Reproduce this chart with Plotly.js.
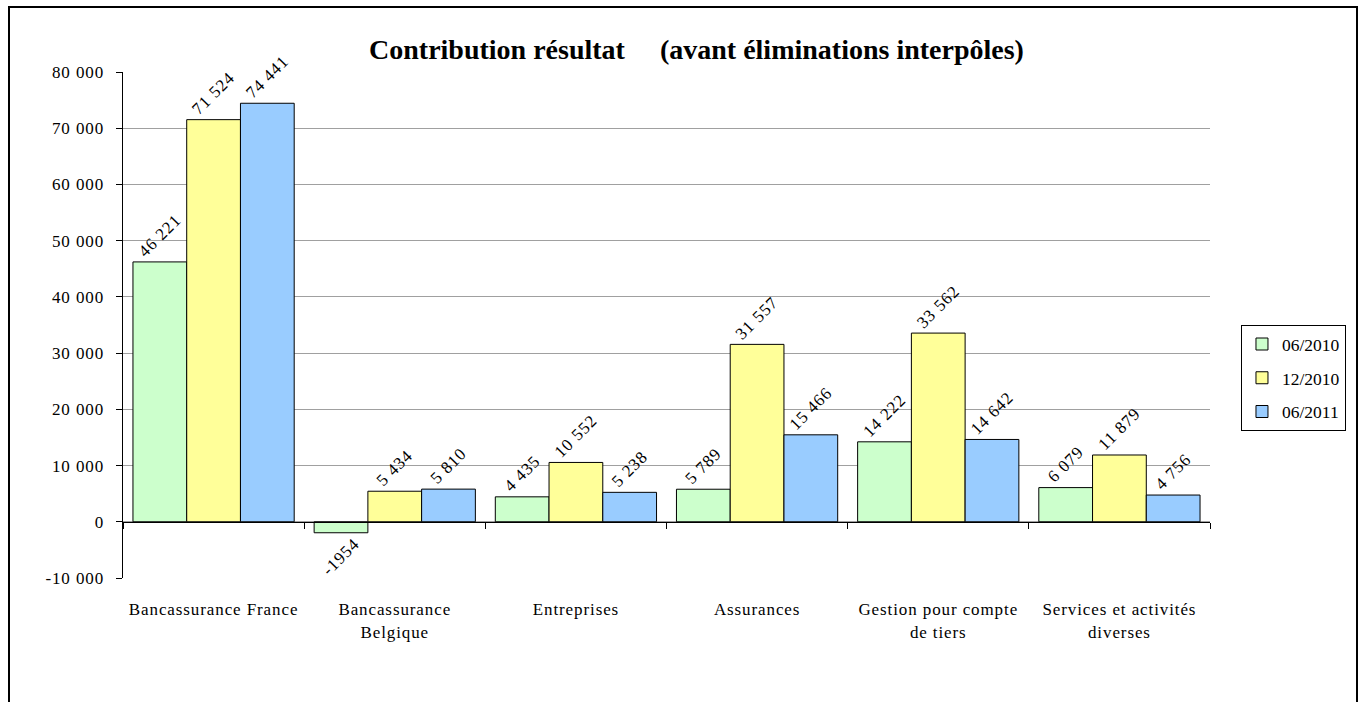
<!DOCTYPE html>
<html>
<head>
<meta charset="utf-8">
<script src="https://cdn.plot.ly/plotly-3.0.1.min.js"></script>
<style>
  body { margin: 0; padding: 0; background: #fff; }
  #chart { position: absolute; left: 0; top: 0; width: 1363px; height: 702px; }
  #frame { position: absolute; left: 8px; top: 6px; width: 1350px; height: 730px;
           border: 2px solid #000; box-sizing: border-box; pointer-events: none; }
  #chart .xtick text, #chart .ytick text, #chart .bartext { letter-spacing: 0.9px; }
</style>
</head>
<body>
<div id="chart"></div>
<div id="frame"></div>
<script>
const categories = [
  "Bancassurance France",
  "Bancassurance<br>Belgique",
  "Entreprises",
  "Assurances",
  "Gestion pour compte<br>de tiers",
  "Services et activités<br>diverses"
];
const seriesNames = ["06/2010", "12/2010", "06/2011"];
const values_06_2010 = [46221, -1954, 4435, 5789, 14222, 6079];
const values_12_2010 = [71524, 5434, 10552, 31557, 33562, 11879];
const values_06_2011 = [74441, 5810, 5238, 15466, 14642, 4756];
const colors = ["#CCFFCC", "#FFFF99", "#99CCFF"];
const yTickVals = [-10000, 0, 10000, 20000, 30000, 40000, 50000, 60000, 70000, 80000];
const yTickText = ["-10 000", "0", "10 000", "20 000", "30 000", "40 000", "50 000", "60 000", "70 000", "80 000"];

function fmt(n) {
  if (n < 0) return "-" + Math.abs(n);
  return String(n).replace(/\B(?=(\d{3})+(?!\d))/g, " ");
}

const serif = "Liberation Serif, Times New Roman, serif";
const allSeries = [values_06_2010, values_12_2010, values_06_2011];
const idx = categories.map((c, i) => i);

const traces = allSeries.map((vals, k) => ({
  type: "bar",
  name: seriesNames[k],
  legendgroup: "g" + k,
  x: idx,
  y: vals,
  text: vals.map(fmt),
  textposition: "outside",
  textangle: -45,
  constraintext: "none",
  cliponaxis: false,
  textfont: { family: serif, size: 17, color: "#000" },
  marker: { color: colors[k], line: { color: "#000", width: 1 } },
  hoverinfo: "skip"
}));

traces.push({
  type: "scatter", x: [], y: [], xaxis: "x2", yaxis: "y",
  showlegend: false, hoverinfo: "skip"
});

const layout = {
  width: 1363, height: 702,
  margin: { l: 123, r: 153, t: 72, b: 124 },
  paper_bgcolor: "#fff", plot_bgcolor: "#fff",
  font: { family: serif, size: 17, color: "#000" },
  title: {
    text: "<b>Contribution résultat &nbsp;&nbsp;&nbsp;&nbsp;(avant éliminations interpôles)</b>",
    font: { family: serif, size: 28, color: "#000" },
    x: 0.511, xanchor: "center", xref: "container",
    y: 0.93, yanchor: "middle", yref: "container"
  },
  barmode: "group",
  bargap: 0.11,
  bargroupgap: 0,
  showlegend: true,
  legend: {
    x: 1.0285, xanchor: "left", y: 0.395, yanchor: "middle",
    bordercolor: "#000", borderwidth: 1, bgcolor: "#fff",
    font: { family: serif, size: 17.5, color: "#000" },
    traceorder: "grouped", tracegroupgap: 8,
    itemwidth: 30
  },
  xaxis: {
    type: "linear",
    range: [-0.5, 5.5],
    tickmode: "array", tickvals: idx, ticktext: categories,
    showgrid: false, zeroline: false, showline: false,
    ticks: "outside", ticklen: 16, tickcolor: "rgba(0,0,0,0)",
    tickfont: { family: serif, size: 17, color: "#000" },
    fixedrange: true
  },
  xaxis2: {
    overlaying: "x", anchor: "free", position: 10000 / 90000,
    type: "linear", range: [-0.5, 5.5],
    tickmode: "array", tickvals: [-0.5, 0.5, 1.5, 2.5, 3.5, 4.5, 5.5],
    showticklabels: false, ticks: "outside", ticklen: 6, tickwidth: 1, tickcolor: "#000",
    showline: true, linecolor: "#000", linewidth: 1.5,
    showgrid: false, zeroline: false
  },
  yaxis: {
    range: [-10000, 80000],
    tickmode: "array", tickvals: yTickVals, ticktext: yTickText,
    showline: true, linecolor: "#000", linewidth: 1.5,
    ticks: "outside", ticklen: 6, tickcolor: "#000",
    ticklabelstandoff: 8,
    showgrid: true, gridcolor: "#a0a0a0", gridwidth: 1,
    zeroline: false,
    tickfont: { family: serif, size: 17, color: "#000" },
    fixedrange: true
  }
};

Plotly.newPlot("chart", traces, layout, { displayModeBar: false, staticPlot: true });
</script>
</body>
</html>
